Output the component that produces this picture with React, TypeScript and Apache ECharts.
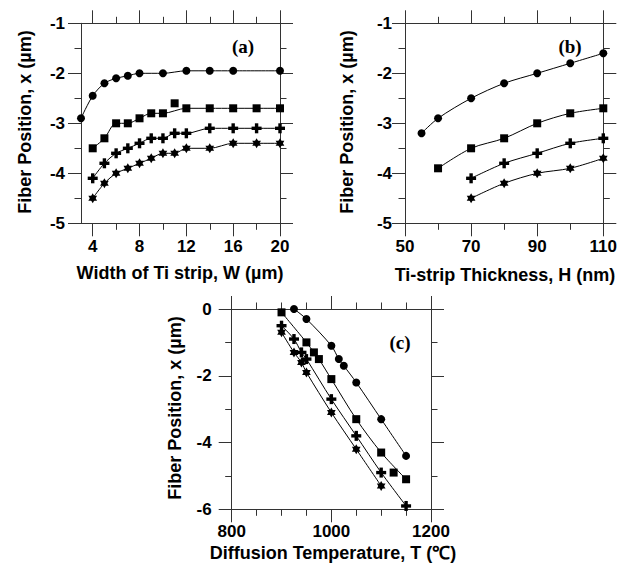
import React, { useEffect, useRef } from "react";
import * as echarts from "echarts";

// ---- tick values ----
const widthMajor = [4, 8, 12, 16, 20];
const widthMinor = [6, 10, 14, 18];
const thickMajor = [50, 70, 90, 110];
const thickMinor = [60, 80, 100];
const tempMajor = [800, 1000, 1200];
const tempMinor = [850, 900, 950, 1050, 1100, 1150];

// ---- panel (a): fiber position vs Ti strip width ----
const aCircle = [[3, -2.9], [4, -2.45], [5, -2.2], [6, -2.1], [7, -2.05], [8, -2.0], [10, -2.0], [12, -1.95], [14, -1.95], [16, -1.95], [20, -1.95]];
const aSquare = [[4, -3.5], [5, -3.3], [6, -3.0], [7, -3.0], [8, -2.9], [9, -2.8], [10, -2.8], [11, -2.6], [12, -2.7], [14, -2.7], [16, -2.7], [18, -2.7], [20, -2.7]];
const aPlus = [[4, -4.1], [5, -3.8], [6, -3.6], [7, -3.5], [8, -3.4], [9, -3.3], [10, -3.3], [11, -3.2], [12, -3.2], [14, -3.1], [16, -3.1], [18, -3.1], [20, -3.1]];
const aStar = [[4, -4.5], [5, -4.2], [6, -4.0], [7, -3.9], [8, -3.8], [9, -3.7], [10, -3.6], [11, -3.6], [12, -3.5], [14, -3.5], [16, -3.4], [18, -3.4], [20, -3.4]];
const aSquareOffCurve = [11];

// ---- panel (b): fiber position vs Ti strip thickness ----
const bCircle = [[55, -3.2], [60, -2.9], [70, -2.5], [80, -2.2], [90, -2.0], [100, -1.8], [110, -1.6]];
const bSquare = [[60, -3.9], [70, -3.5], [80, -3.3], [90, -3.0], [100, -2.8], [110, -2.7]];
const bPlus = [[70, -4.1], [80, -3.8], [90, -3.6], [100, -3.4], [110, -3.3]];
const bStar = [[70, -4.5], [80, -4.2], [90, -4.0], [100, -3.9], [110, -3.7]];

// ---- panel (c): fiber position vs diffusion temperature ----
const cCircle = [[925, 0], [950, -0.3], [1000, -1.1], [1015, -1.5], [1025, -1.7], [1050, -2.2], [1100, -3.3], [1150, -4.4]];
const cSquare = [[900, -0.1], [950, -1.0], [965, -1.3], [975, -1.5], [1000, -2.1], [1050, -3.3], [1100, -4.3], [1125, -4.9], [1150, -5.1]];
const cPlus = [[900, -0.5], [925, -0.9], [940, -1.3], [950, -1.5], [1000, -2.7], [1050, -3.8], [1100, -4.9], [1150, -5.9]];
const cStar = [[900, -0.7], [925, -1.3], [940, -1.6], [950, -1.9], [1000, -3.1], [1050, -4.2], [1100, -5.3]];
const cSquareOffCurve = [1125];

const FONT = "'Liberation Sans', Arial, Helvetica, sans-serif";
const SERIF = "'Liberation Serif', 'Times New Roman', serif";
const AX = "#333";
const labelStyle = { color: "#000", fontSize: 17, fontWeight: "bold" as const, fontFamily: FONT, formatter: (v: number) => String(v) };

type Part = { symbol: string; size: number[]; rotate?: number; offset?: number[] };
const CIRCLE: Part[] = [{ symbol: "circle", size: [8, 8] }];
const SQUARE: Part[] = [{ symbol: "rect", size: [8, 8] }];
const PLUS: Part[] = [
  { symbol: "rect", size: [10, 3.4] },
  { symbol: "rect", size: [3.4, 10] },
];
const STAR: Part[] = [
  { symbol: "triangle", size: [8.7, 7.5], offset: [0, -1.25] },
  { symbol: "triangle", size: [8.7, 7.5], rotate: 180, offset: [0, 1.25] },
];

function xAxes(min: number, max: number, major: number[], minor: number[], margin: number) {
  const mk = (pos: string, ticks: number[], len: number, line: boolean, label: boolean) => ({
    type: "value", gridIndex: 0, position: pos, min, max,
    axisLine: { show: line, onZero: false, lineStyle: { color: AX, width: 1 } },
    axisTick: { show: true, customValues: ticks, length: len, lineStyle: { color: AX, width: 1 } },
    axisLabel: label ? { show: true, customValues: ticks, margin, ...labelStyle } : { show: false },
    splitLine: { show: false },
  });
  return [mk("bottom", major, 13, true, true), mk("bottom", minor, 6.5, false, false), mk("top", major, 13, true, false), mk("top", minor, 6.5, false, false)];
}

function yAxes(min: number, max: number, interval: number, margin: number) {
  const mk = (pos: string, label: boolean) => ({
    type: "value", gridIndex: 0, position: pos, min, max, interval,
    axisLine: { show: true, onZero: false, lineStyle: { color: AX, width: 1 } },
    axisTick: { show: true, length: 13, lineStyle: { color: AX, width: 1 } },
    minorTick: { show: true, splitNumber: 2, length: 6.5, lineStyle: { color: AX, width: 1 } },
    axisLabel: label ? { show: true, margin, ...labelStyle } : { show: false },
    splitLine: { show: false }, minorSplitLine: { show: false },
  });
  return [mk("left", true), mk("right", false)];
}

type Set = { data: number[][]; parts: Part[]; skip?: number[] };

function seriesFor(sets: Set[]) {
  const out: any[] = [];
  sets.forEach((s) => {
    const lineData = s.data.filter((p) => !(s.skip || []).includes(p[0]));
    out.push({
      type: "line", xAxisIndex: 0, yAxisIndex: 0, data: lineData, smooth: 0.3, symbol: "none",
      clip: false, lineStyle: { color: "#000", width: 1 },
    });
    s.parts.forEach((pt) => {
      const sc: any = {
        type: "scatter", xAxisIndex: 0, yAxisIndex: 0, data: s.data, symbol: pt.symbol, symbolSize: pt.size,
        clip: false, itemStyle: { color: "#000", opacity: 1 },
      };
      if (pt.rotate) sc.symbolRotate = pt.rotate;
      if (pt.offset) sc.symbolOffset = pt.offset;
      out.push(sc);
    });
  });
  return out;
}

function titleText(text: string, x: number, y: number, rotate = false) {
  return { type: "text", x, y, rotation: rotate ? Math.PI / 2 : 0, style: { text, fill: "#000", font: `bold 18px ${FONT}`, align: "center", verticalAlign: "middle" } };
}
function panelText(text: string, x: number, y: number) {
  return { type: "text", x, y, style: { text, fill: "#000", font: `bold 19px ${SERIF}`, align: "center", verticalAlign: "middle" } };
}

const markerSets = (c: number[][], s: number[][], p: number[][], st: number[][], sSkip?: number[]): Set[] => [
  { data: c, parts: CIRCLE },
  { data: s, parts: SQUARE, skip: sSkip },
  { data: p, parts: PLUS },
  { data: st, parts: STAR },
];

function panelOption(which: number) {
  if (which === 0) {
    return {
      animation: false,
      grid: [{ left: 81, top: 23.3, width: 199, height: 200 }],
      xAxis: xAxes(3, 20, widthMajor, widthMinor, 15),
      yAxis: yAxes(-5, -1, 1, 16),
      series: seriesFor(markerSets(aCircle, aSquare, aPlus, aStar, aSquareOffCurve)),
      graphic: [
        titleText("Width of Ti strip, W (µm)", 180, 273),
        titleText("Fiber Position, x (µm)", 25, 122, true),
        panelText("(a)", 243, 46),
      ],
    };
  }
  if (which === 1) {
    return {
      animation: false,
      grid: [{ left: 405, top: 23.3, width: 198.3, height: 200 }],
      xAxis: xAxes(50, 110, thickMajor, thickMinor, 15),
      yAxis: yAxes(-5, -1, 1, 13),
      series: seriesFor(markerSets(bCircle, bSquare, bPlus, bStar)),
      graphic: [
        titleText("Ti-strip Thickness, H (nm)", 505, 275),
        titleText("Fiber Position, x (µm)", 347, 122, true),
        panelText("(b)", 570, 46),
      ],
    };
  }
  return {
    animation: false,
    grid: [{ left: 231.7, top: 309, width: 199.3, height: 200.3 }],
    xAxis: xAxes(800, 1200, tempMajor, tempMinor, 14),
    yAxis: yAxes(-6, 0, 2, 20),
    series: seriesFor(markerSets(cCircle, cSquare, cPlus, cStar, cSquareOffCurve)),
    graphic: [
      titleText("Diffusion Temperature, T (℃)", 333, 553),
      titleText("Fiber Position, x (µm)", 175, 408, true),
      panelText("(c)", 400, 342),
    ],
  };
}

function Panel({ which }: { which: number }) {
  const ref = useRef<HTMLDivElement>(null);
  useEffect(() => {
    if (!ref.current) return;
    const chart = echarts.init(ref.current, undefined, { renderer: "svg" });
    chart.setOption(panelOption(which) as any);
    return () => chart.dispose();
  }, [which]);
  return <div ref={ref} style={{ position: "absolute", left: 0, top: 0, width: 631, height: 570 }} />;
}

export default function App() {
  return (
    <div style={{ position: "fixed", left: 0, top: 0, width: 631, height: 570, background: "#fff" }}>
      <Panel which={0} />
      <Panel which={1} />
      <Panel which={2} />
    </div>
  );
}
